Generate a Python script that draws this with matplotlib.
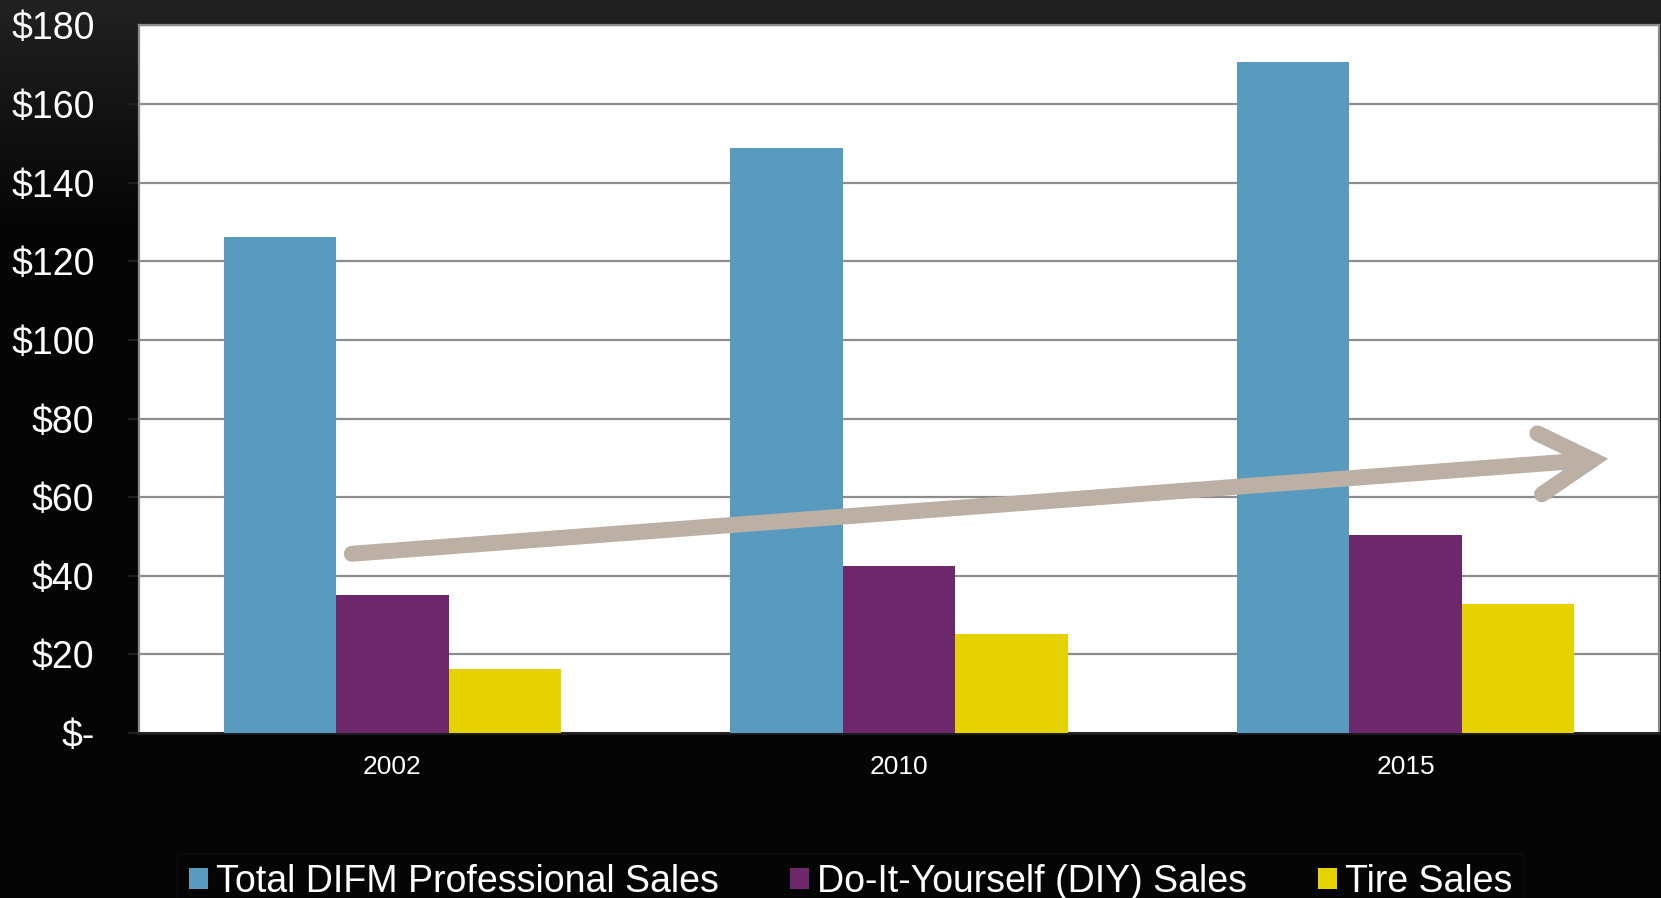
import matplotlib.pyplot as plt
import numpy as np

plt.rcParams['font.family'] = ['Liberation Sans', 'DejaVu Sans']

years = ['2002', '2010', '2015']
difm = [126.3, 148.7, 170.6]
diy = [35.0, 42.6, 50.4]
tire = [16.4, 25.3, 32.9]
series = ['Total DIFM Professional Sales', 'Do-It-Yourself (DIY) Sales', 'Tire Sales']
colors = ['#589BBF', '#6D286B', '#E6D200']
yticks = [0, 20, 40, 60, 80, 100, 120, 140, 160, 180]
ylabels = ['$-'] + ['$%d' % v for v in yticks[1:]]

# trend arrow ends, in data coords
arrow_start = (-0.08, 45.6)
arrow_end = (2.40, 69.8)

fig = plt.figure(figsize=(16.61, 8.98), dpi=100, facecolor='black')

# dark background with a faint lighter band at the top
bg = fig.add_axes([0, 0, 1, 1], zorder=-1)
grad = np.linspace(0, 1, 200)[:, None]
grad = 0.11 * np.clip(1 - grad * 4, 0, 1) + 0.02
bg.imshow(np.dstack([grad, grad, grad]), aspect='auto', extent=[0, 1, 0, 1])
bg.axis('off')

ax = fig.add_axes([0.0837, 0.1837, 0.915, 0.788])
ax.set_facecolor('white')
x = np.arange(len(years))
w = 0.222
ax.bar(x - w, difm, w, color=colors[0], label=series[0], zorder=3)
ax.bar(x, diy, w, color=colors[1], label=series[1], zorder=3)
ax.bar(x + w, tire, w, color=colors[2], label=series[2], zorder=3)

ax.set_xlim(-0.5, 2.5)
ax.set_ylim(0, 180)
ax.set_yticks(yticks)
ax.set_yticklabels(ylabels)
ax.set_xticks(x)
ax.set_xticklabels(years)
ax.yaxis.grid(True, color='#8c8c8c', lw=1.6, zorder=0)
ax.tick_params(axis='y', colors='#1e1e1e', labelcolor='white', labelsize=27,
               direction='out', length=8, width=1.5, pad=24)
ax.tick_params(axis='x', labelcolor='white', labelsize=19, length=0, pad=16)

for s in ['top', 'right', 'left']:
    ax.spines[s].set_color('#8c8c8c')
    ax.spines[s].set_linewidth(1.6)
ax.spines['bottom'].set_color('#1e1e1e')
ax.spines['bottom'].set_linewidth(2)

ax.annotate('', xy=arrow_end, xytext=arrow_start,
            arrowprops=dict(arrowstyle='->,head_length=0.95,head_width=0.55',
                            color='#BCB0A5', lw=11.5, mutation_scale=40,
                            shrinkA=0, shrinkB=0, capstyle='round',
                            joinstyle='miter'),
            zorder=5)

leg = fig.legend(loc='center', bbox_to_anchor=(0.512, 0.018), ncol=3,
                 fontsize=27, frameon=True, facecolor='none',
                 edgecolor='#101010', handlelength=0.52, handleheight=0.52,
                 handletextpad=0.2, columnspacing=1.9, borderpad=0.3)
for t in leg.get_texts():
    t.set_color('white')

fig.savefig('out.png', dpi=100, facecolor=fig.get_facecolor())
